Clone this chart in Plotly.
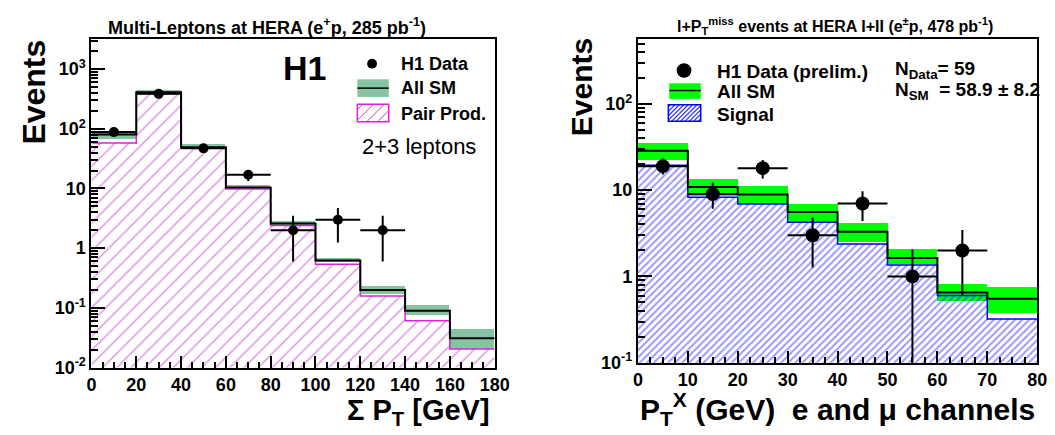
import plotly.graph_objects as go

W, H = 1055, 435
FONT = "Liberation Sans, Arial, Helvetica, sans-serif"

# ---------------- Left panel data: Multi-Leptons ----------------
ml_edges = [0, 20, 40, 60, 80, 100, 120, 140, 160, 180]
ml_sm = [80, 410, 49, 10.4, 2.6, 0.62, 0.20, 0.089, 0.031]
ml_sm_hi = [86, 450, 55, 11.2, 2.85, 0.69, 0.23, 0.112, 0.043]
ml_sm_lo = [68, 395, 46, 9.9, 2.45, 0.57, 0.17, 0.076, 0.020]
ml_pair = [58, 385, 47, 9.8, 2.4, 0.54, 0.158, 0.061, 0.0205]
ml_data_x = [10, 30, 50, 70, 90, 110, 130]
ml_data = [88, 385, 47, 17, 2, 3, 2]
ml_data_up = [9, 20, 7, 3, 1.5, 1.7, 1.5]
ml_data_dn = [9, 20, 7, 3.6, 1.4, 1.75, 1.4]

# ---------------- Right panel data: l + PT miss ----------------
lp_edges = [0, 10, 20, 30, 40, 50, 60, 70, 80]
lp_sm = [28.7, 10.9, 8.9, 5.6, 3.3, 1.64, 0.65, 0.55]
lp_sm_hi = [34.7, 13.3, 11.0, 6.9, 4.1, 2.04, 0.81, 0.74]
lp_sm_lo = [22.4, 8.4, 6.9, 4.3, 2.5, 1.38, 0.52, 0.37]
lp_signal = [19.4, 8.3, 6.9, 4.25, 2.37, 1.36, 0.60, 0.32]
lp_data_x = [5, 15, 25, 35, 45, 55, 65]
lp_data = [19, 9, 18, 3, 7, 1, 2]
lp_data_up = [4.5, 3.3, 4.4, 1.8, 2.7, 1.05, 1.45]
lp_data_dn = [3.8, 2.9, 4.3, 1.73, 2.6, 0.99, 1.4]

ml_ticktext = ["10<sup>-2</sup>", "10<sup>-1</sup>", "1", "10", "10<sup>2</sup>", "10<sup>3</sup>"]
lp_ticktext = ["10<sup>-1</sup>", "1", "10", "10<sup>2</sup>"]


def centers(edges):
    return [(a + b) / 2 for a, b in zip(edges[:-1], edges[1:])]


def widths(edges):
    return [b - a for a, b in zip(edges[:-1], edges[1:])]


def px(x):
    return x / W


def py(y):
    return 1 - y / H


fig = go.Figure()

# ---- left panel ----
mc, mw = centers(ml_edges), widths(ml_edges)
fig.add_trace(go.Bar(x=mc, y=[h - l for h, l in zip(ml_sm_hi, ml_sm_lo)], base=ml_sm_lo,
                     width=mw, marker=dict(color="#86c3a3", line=dict(width=0)),
                     xaxis="x", yaxis="y", showlegend=False))
fig.add_trace(go.Bar(x=mc, y=ml_pair, width=mw,
                     marker=dict(color="rgba(0,0,0,0)", line=dict(width=0),
                                 pattern=dict(shape="/", fgcolor="#c040c8", bgcolor="rgba(0,0,0,0)",
                                              size=10, solidity=0.16, fillmode="overlay")),
                     xaxis="x", yaxis="y", showlegend=False))
fig.add_trace(go.Scatter(x=ml_edges, y=ml_pair + [ml_pair[-1]], mode="lines", line_shape="hv",
                         line=dict(color="#e020e0", width=1.5), xaxis="x", yaxis="y", showlegend=False))
fig.add_trace(go.Scatter(x=ml_edges, y=ml_sm + [ml_sm[-1]], mode="lines", line_shape="hv",
                         line=dict(color="black", width=2), xaxis="x", yaxis="y", showlegend=False))
fig.add_trace(go.Scatter(x=ml_data_x, y=ml_data, mode="markers",
                         marker=dict(color="black", size=10),
                         error_y=dict(type="data", array=ml_data_up, arrayminus=ml_data_dn,
                                      color="black", thickness=2, width=0),
                         error_x=dict(type="constant", value=10, color="black", thickness=2, width=0),
                         xaxis="x", yaxis="y", showlegend=False))

# ---- right panel ----
lc, lw = centers(lp_edges), widths(lp_edges)
fig.add_trace(go.Bar(x=lc, y=[h - l for h, l in zip(lp_sm_hi, lp_sm_lo)], base=lp_sm_lo,
                     width=lw, marker=dict(color="#00ff00", line=dict(width=0)),
                     xaxis="x2", yaxis="y2", showlegend=False))
fig.add_trace(go.Bar(x=lc, y=lp_signal, width=lw,
                     marker=dict(color="rgba(0,0,0,0)", line=dict(width=0),
                                 pattern=dict(shape="/", fgcolor="#2f2fff", bgcolor="rgba(0,0,0,0)",
                                              size=5, solidity=0.4, fillmode="overlay")),
                     xaxis="x2", yaxis="y2", showlegend=False))
fig.add_trace(go.Scatter(x=lp_edges, y=lp_signal + [lp_signal[-1]], mode="lines", line_shape="hv",
                         line=dict(color="#0000ff", width=1.5), xaxis="x2", yaxis="y2", showlegend=False))
fig.add_trace(go.Scatter(x=lp_edges, y=lp_sm + [lp_sm[-1]], mode="lines", line_shape="hv",
                         line=dict(color="black", width=2), xaxis="x2", yaxis="y2", showlegend=False))
fig.add_trace(go.Scatter(x=lp_data_x, y=lp_data, mode="markers",
                         marker=dict(color="black", size=14),
                         error_y=dict(type="data", array=lp_data_up, arrayminus=lp_data_dn,
                                      color="black", thickness=2, width=0),
                         error_x=dict(type="constant", value=5, color="black", thickness=2, width=0),
                         xaxis="x2", yaxis="y2", showlegend=False))

tickfont = dict(family=FONT, size=18, color="black", weight="bold")
common_ax = dict(showgrid=False, zeroline=False, showline=True, linecolor="black", linewidth=2,
                 mirror=True, ticks="inside", tickcolor="black", tickfont=tickfont)

ml_minor = [m * 10 ** e for e in range(-2, 4) for m in range(2, 10)]
lp_minor = [m * 10 ** e for e in range(-1, 3) for m in range(2, 10)]

fig.update_layout(
    width=W, height=H, margin=dict(l=0, r=0, t=0, b=0),
    paper_bgcolor="white", plot_bgcolor="white", barmode="overlay", bargap=0,
    xaxis=dict(domain=[px(80), px(491)], range=[0, 180], dtick=20, ticklen=12, tickwidth=1.5,
               anchor="y", minor=dict(dtick=5, ticks="inside", ticklen=6, tickcolor="black"),
               **common_ax),
    yaxis=dict(domain=[py(368), py(32)], type="log", range=[-2, 3.5], anchor="x",
               tickmode="array", tickvals=[0.01, 0.1, 1, 10, 100, 1000], ticktext=ml_ticktext,
               ticklen=14, tickwidth=1.5,
               minor=dict(tickmode="array", tickvals=ml_minor, ticks="inside", ticklen=7,
                          tickcolor="black"),
               **common_ax),
    xaxis2=dict(domain=[px(637), px(1044)], range=[0, 80], dtick=10, ticklen=12, tickwidth=1.5,
                anchor="y2", minor=dict(dtick=2.5, ticks="inside", ticklen=6, tickcolor="black"),
                **common_ax),
    yaxis2=dict(domain=[py(363), py(32)], type="log", range=[-1, 2.75], anchor="x2",
                tickmode="array", tickvals=[0.1, 1, 10, 100], ticktext=lp_ticktext,
                ticklen=14, tickwidth=1.5,
                minor=dict(tickmode="array", tickvals=lp_minor, ticks="inside", ticklen=7,
                           tickcolor="black"),
                **common_ax),
)

annotations = []
shapes = []


def text(x, y, s, size, xanchor="left", bold=True, angle=0):
    annotations.append(dict(x=px(x), y=py(y), xref="paper", yref="paper", text=s, showarrow=False,
                            xanchor=xanchor, yanchor="middle", textangle=angle,
                            font=dict(family=FONT, size=size, color="black",
                                      weight="bold" if bold else "normal")))


# titles
text(259, 19, "Multi-Leptons at HERA (e<sup>+</sup>p, 285 pb<sup>-1</sup>)", 18, "center")
text(838, 18, "l+P<sub>T</sub><sup>miss</sup> events at HERA I+II (e<sup>±</sup>p, 478 pb<sup>-1</sup>)", 16, "center")
# axis titles
text(21, 86, "Events", 32, "center", angle=-90)
text(579, 81, "Events", 30, "center", angle=-90)
text(488, 414, "Σ P<sub>T</sub> [GeV]", 29, "right")
text(1044, 410, "P<sub>T</sub><sup>X</sup> (GeV)  e and μ channels", 30, "right")

# left legend
text(297, 61, "H1", 34, "center")
shapes.append(dict(type="circle", xref="paper", yref="paper", x0=px(361), x1=px(371), y0=py(62), y1=py(52),
                   fillcolor="black", line=dict(width=0)))
text(393, 57, "H1 Data", 18)
shapes.append(dict(type="rect", xref="paper", yref="paper", x0=px(351), x1=px(383), y0=py(91), y1=py(73),
                   fillcolor="#86c3a3", line=dict(width=0)))
shapes.append(dict(type="line", xref="paper", yref="paper", x0=px(351), x1=px(383), y0=py(82), y1=py(82),
                   line=dict(color="black", width=1.5)))
text(393, 82, "All SM", 18)


def hatch_box(x0, x1, y0, y1, spacing, color, lw, outline):
    w, h = x1 - x0, y1 - y0
    c = -h + spacing / 2
    while c < w:
        ta, tb = max(0, -c), min(h, w - c)
        if tb > ta:
            shapes.append(dict(type="line", xref="paper", yref="paper",
                               x0=px(x0 + c + ta), y0=py(y1 - ta), x1=px(x0 + c + tb), y1=py(y1 - tb),
                               line=dict(color=color, width=lw)))
        c += spacing
    shapes.append(dict(type="rect", xref="paper", yref="paper", x0=px(x0), x1=px(x1), y0=py(y1), y1=py(y0),
                       line=dict(color=outline, width=1.5)))


hatch_box(351, 383, 98.5, 116.5, 11, "#c040c8", 1, "#e020e0")
text(393, 108, "Pair Prod.", 18)
text(414, 142, "2+3 leptons", 22, "center", bold=False)

# right legend
shapes.append(dict(type="circle", xref="paper", yref="paper", x0=px(676.5), x1=px(691.5), y0=py(71.5), y1=py(56.5),
                   fillcolor="black", line=dict(width=0)))
text(716, 65, "H1 Data (prelim.)", 19)
shapes.append(dict(type="rect", xref="paper", yref="paper", x0=px(669), x1=px(701), y0=py(93), y1=py(77),
                   fillcolor="#00ff00", line=dict(width=0)))
shapes.append(dict(type="line", xref="paper", yref="paper", x0=px(669), x1=px(701), y0=py(84.5), y1=py(84.5),
                   line=dict(color="black", width=1.5)))
text(716, 85, "All SM", 19)
hatch_box(668, 701, 99, 116, 4.5, "#2f2fff", 1.2, "#0000ff")
text(716, 109, "Signal", 19)
text(897, 63, "N<sub>Data</sub>= 59", 19)
text(897, 85, "N<sub>SM</sub>  = 58.9 ± 8.2", 19)

fig.update_layout(annotations=annotations, shapes=shapes)
fig.write_html("out.html")
